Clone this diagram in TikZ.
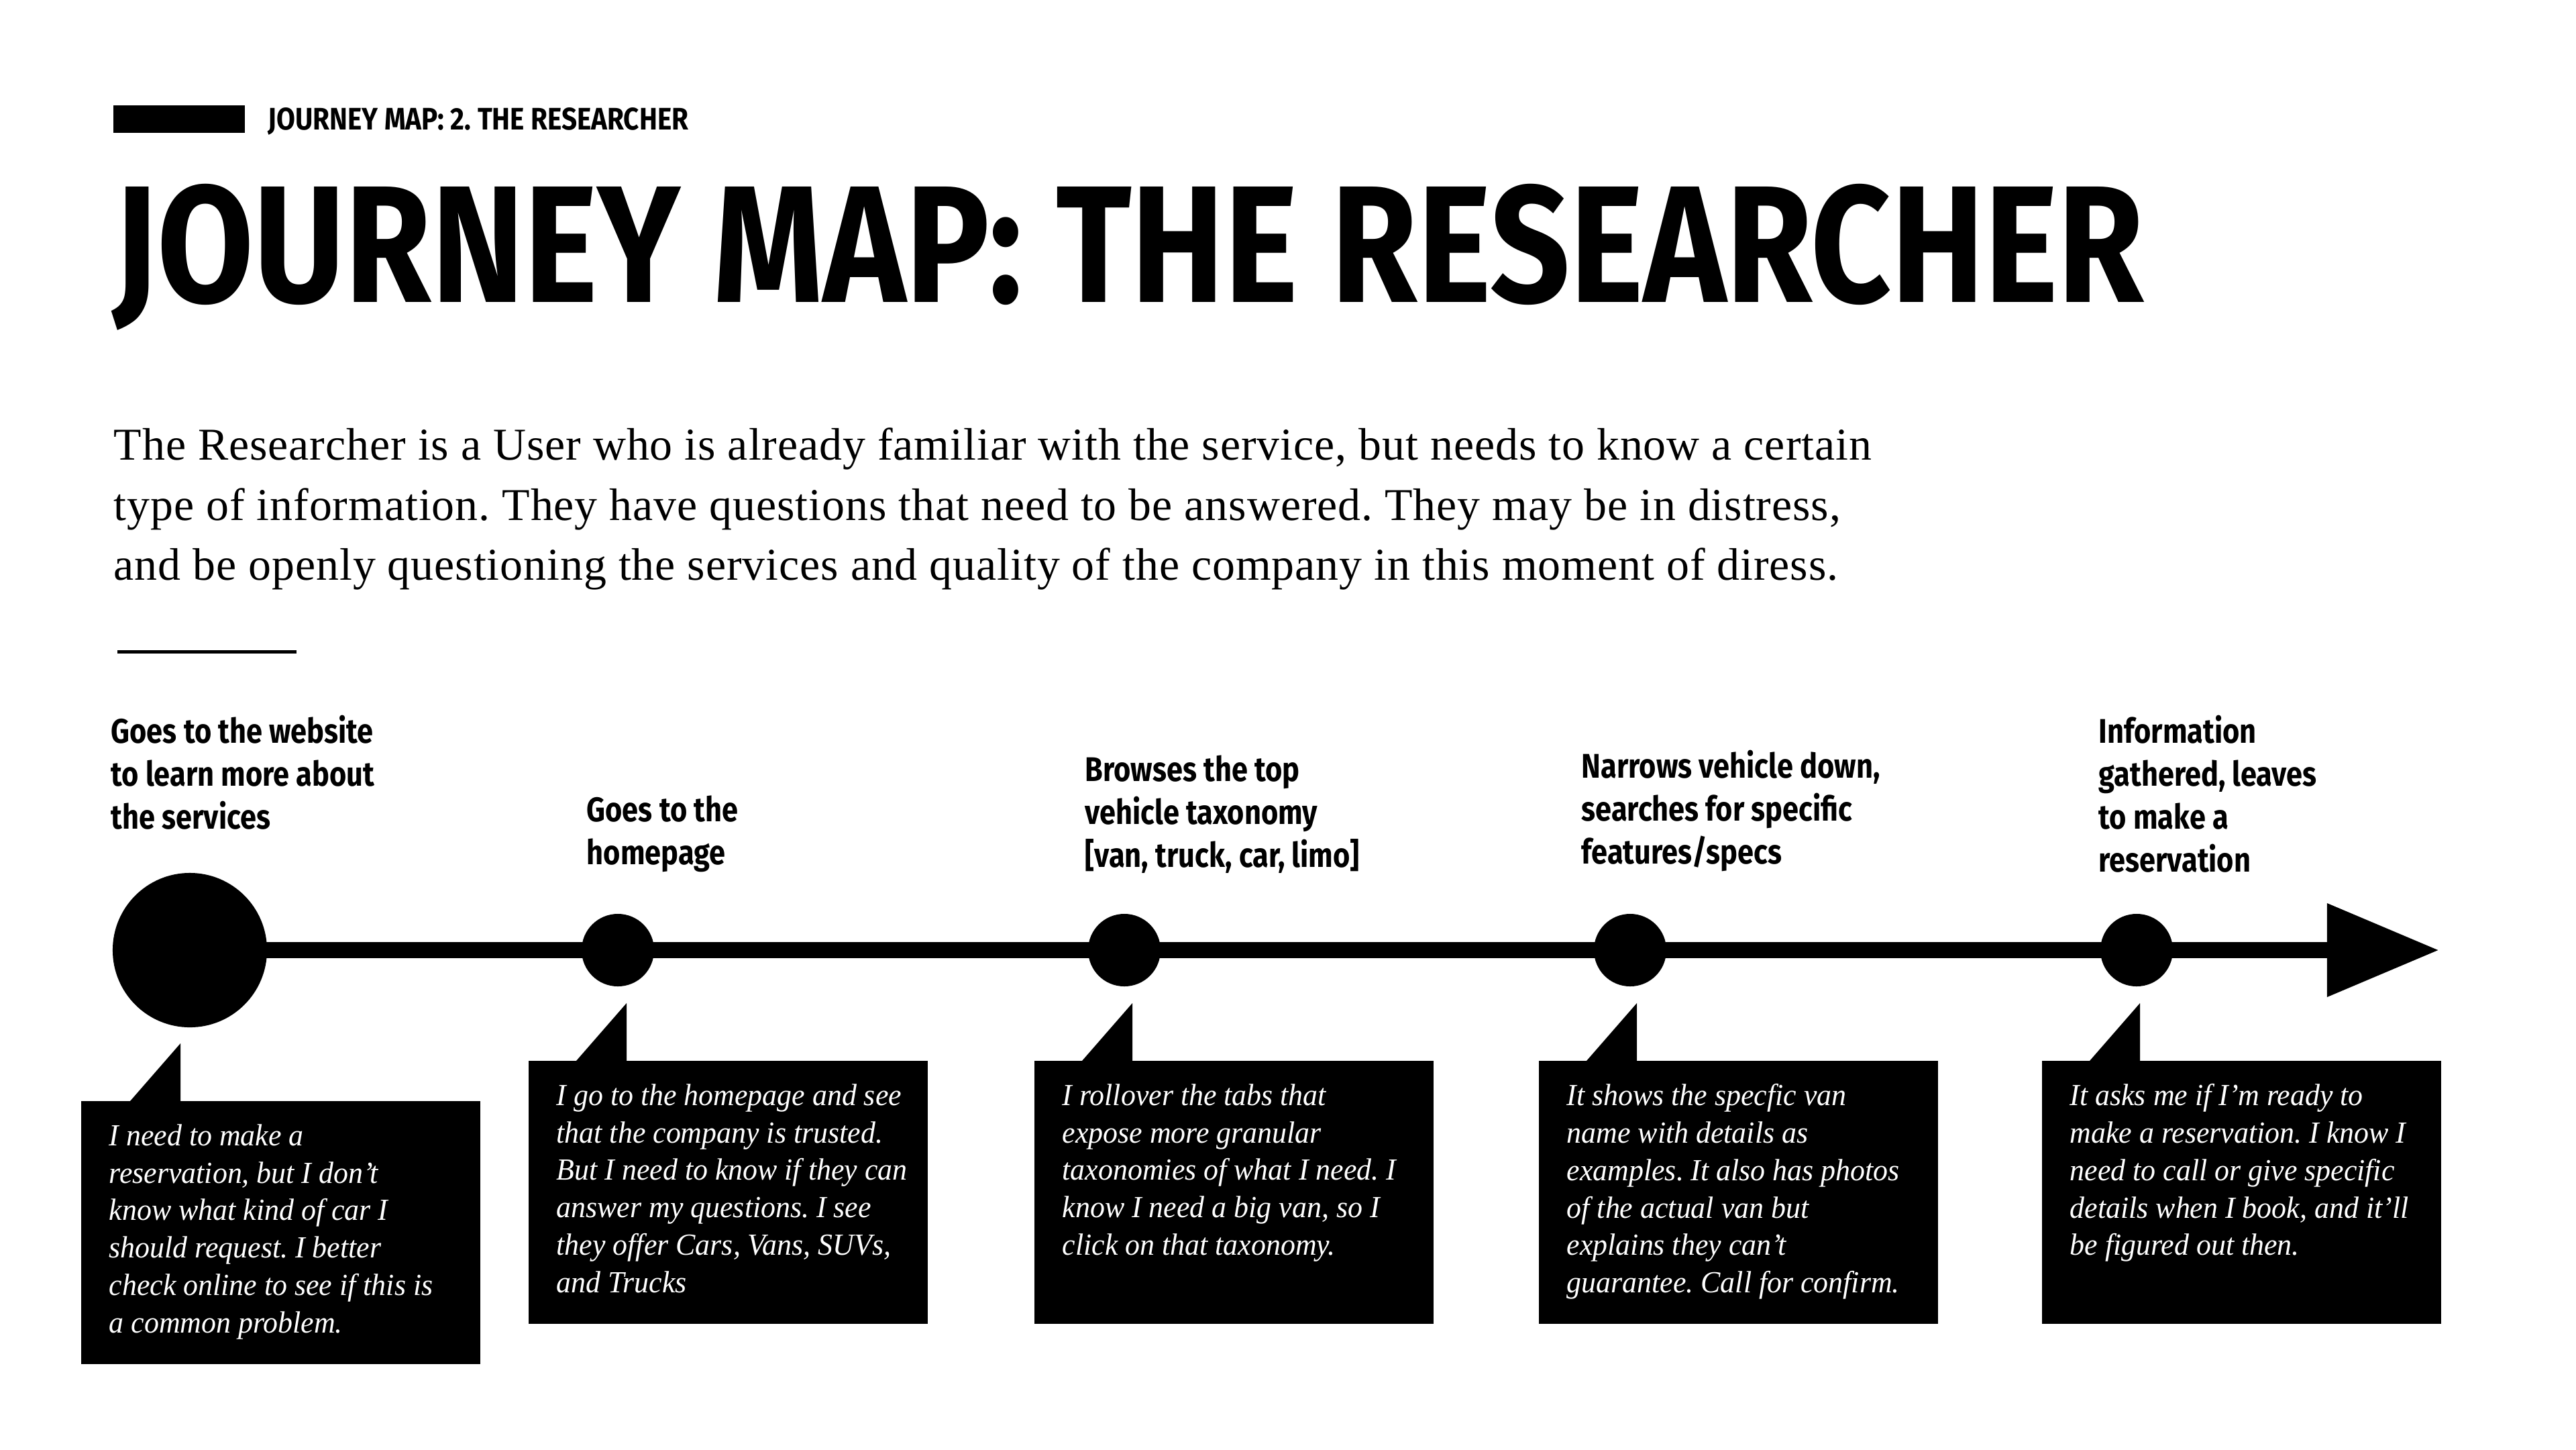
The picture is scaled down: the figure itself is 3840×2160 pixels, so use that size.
\documentclass[tikz,border=0pt]{standalone}
\usepackage{fontspec}
\setmainfont{Liberation Serif}
\newfontfamily\headfont[FakeStretch=0.85]{Fira Sans}
\newfontfamily\titlefont[FakeStretch=0.84]{Fira Sans}
\newfontfamily\kickerfont[FakeStretch=0.87]{Fira Sans}
\newfontfamily\introfont[LetterSpace=1.4]{Liberation Serif}
\newfontfamily\quotefont[FakeStretch=0.96]{Liberation Serif}
\usepackage{tikz}
\usetikzlibrary{arrows.meta, calc}
\definecolor{mapK}{RGB}{0,0,0}
\frenchspacing
\tikzset{
  startdot/.style={circle, fill=mapK, inner sep=0pt, minimum size=2.3cm},
  stepdot/.style={circle, fill=mapK, inner sep=0pt, minimum size=1.08cm},
  steplabel/.style={anchor=north west, inner sep=0pt, align=left,
    font=\headfont\bfseries\fontsize{14.5}{18.2}\selectfont},
  callout/.style={anchor=north west, fill=mapK, inner sep=0pt,
    minimum width=5.95cm, minimum height=3.92cm},
  quote/.style={anchor=north west, inner sep=0pt, align=left, text=white,
    font=\quotefont\fontsize{13}{15.85}\selectfont\itshape}}

\begin{document}
\begin{tikzpicture}[x=0.01cm, y=-0.01cm]
\useasboundingbox (0,0) rectangle (3840,2160);
% header
\fill[mapK] (169,157) rectangle (365,198);
\node[anchor=base west, inner sep=0pt, font=\kickerfont\bfseries\fontsize{13.2}{15}\selectfont]
  (kicker) at (399,193) {JOURNEY MAP: 2. THE RESEARCHER};
\node[anchor=base west, inner sep=0pt, font=\titlefont\bfseries\fontsize{70.6}{72}\selectfont]
  (title) at (168,450) {JOURNEY MAP: THE RESEARCHER};
% intro paragraph
\node[anchor=north west, inner sep=0pt, align=left, font=\introfont\fontsize{19.3}{25.5}\selectfont]
  (intro) at (169,637) {The Researcher is a User who is already familiar with the service, but needs to know a certain\\
  type of information. They have questions that need to be answered. They may be in distress,\\
  and be openly questioning the services and quality of the company in this moment of diress.};
\draw[line width=0.05cm] (175,971) -- (442,971);
% timeline
\coordinate (tip) at (3636,1416);
\node[startdot] (s0) at (283,1416) {};
\draw[line width=0.24cm, -{Triangle[length=1.67cm, width=1.33cm]}] (s0.center) -- (tip);
\node[stepdot] (s1) at (921,1416) {};
\node[stepdot] (s2) at (1676,1416) {};
\node[stepdot] (s3) at (2430,1416) {};
\node[stepdot] (s4) at (3185,1416) {};
% step labels
\node[steplabel] (l0) at (165,1065) {Goes to the website\\to learn more about\\the services};
\node[steplabel] (l1) at (874,1185) {Goes to the\\homepage};
\node[steplabel] (l2) at (1617,1125) {Browses the top\\vehicle taxonomy\\{[van, truck, car, limo]}};
\node[steplabel] (l3) at (2357,1117) {Narrows vehicle down,\\searches for specific\\features/specs};
\node[steplabel] (l4) at (3128,1065) {Information\\gathered, leaves\\to make a\\reservation};
% callout boxes
\node[callout] (c0) at (120,1640) {};
\node[callout] (c1) at (787,1580) {};
\node[callout] (c2) at (1541,1580) {};
\node[callout] (c3) at (2293,1580) {};
\node[callout] (c4) at (3043,1580) {};
% callout tails
\fill[mapK] ($(c0.north west)+(74,1)$) -- ($(c0.north west)+(149,1)$) -- ($(c0.north west)+(149,-85)$) -- cycle;
\fill[mapK] ($(c1.north west)+(72,1)$) -- ($(c1.north west)+(147,1)$) -- ($(c1.north west)+(147,-85)$) -- cycle;
\fill[mapK] ($(c2.north west)+(72,1)$) -- ($(c2.north west)+(147,1)$) -- ($(c2.north west)+(147,-85)$) -- cycle;
\fill[mapK] ($(c3.north west)+(72,1)$) -- ($(c3.north west)+(147,1)$) -- ($(c3.north west)+(147,-85)$) -- cycle;
\fill[mapK] ($(c4.north west)+(72,1)$) -- ($(c4.north west)+(147,1)$) -- ($(c4.north west)+(147,-85)$) -- cycle;
% quotes
\node[quote] (q0) at ($(c0.north west)+(42,35)$) {I need to make a\\reservation, but I don’t\\know what kind of car I\\should request. I better\\check online to see if this is\\a common problem.};
\node[quote] (q1) at ($(c1.north west)+(42,35)$) {I go to the homepage and see\\that the company is trusted.\\But I need to know if they can\\answer my questions. I see\\they offer Cars, Vans, SUVs,\\and Trucks};
\node[quote] (q2) at ($(c2.north west)+(42,35)$) {I rollover the tabs that\\expose more granular\\taxonomies of what I need. I\\know I need a big van, so I\\click on that taxonomy.};
\node[quote] (q3) at ($(c3.north west)+(42,35)$) {It shows the specfic van\\name with details as\\examples. It also has photos\\of the actual van but\\explains they can’t\\guarantee. Call for confirm.};
\node[quote] (q4) at ($(c4.north west)+(42,35)$) {It asks me if I’m ready to\\make a reservation. I know I\\need to call or give specific\\details when I book, and it’ll\\be figured out then.};
\end{tikzpicture}
\end{document}
